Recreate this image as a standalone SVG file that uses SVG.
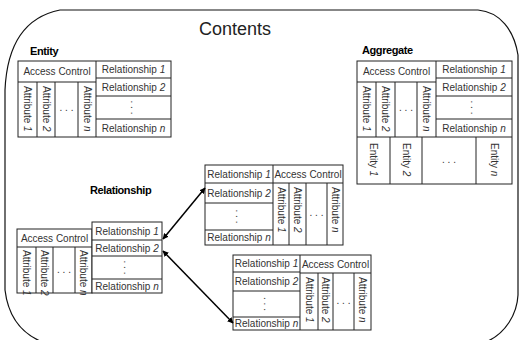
<svg xmlns="http://www.w3.org/2000/svg" width="519" height="340" viewBox="0 0 519 340">
<style>
.b{fill:#fff;stroke:#222;stroke-width:1}
.l{stroke:#222;stroke-width:1;fill:none}
.t{font-family:"Liberation Sans",Arial,sans-serif;font-size:10px;fill:#333}
.c{text-anchor:middle}
.h{font-family:"Liberation Sans",Arial,sans-serif;font-weight:bold;font-size:11px;fill:#000;letter-spacing:-0.4px}
.i{font-style:italic}
.a{stroke:#000;stroke-width:1.5;fill:none;marker-start:url(#ah);marker-end:url(#ah)}
</style>
<defs>
<marker id="ah" viewBox="0 0 10 10" refX="9" refY="5" markerWidth="6" markerHeight="6" orient="auto-start-reverse" markerUnits="userSpaceOnUse"><path d="M0,0 L10,5 L0,10 Z" fill="#000"/></marker>
</defs>
<rect width="519" height="340" fill="#fff"/>
<g id="frame">
<path d="M60,10 L478,10 C500,12 514,30 518,55 L518,295 C517,315 505,333 488,341 L40,341 C20,332 8,315 5,290 L5,90 C7,45 25,17 60,10 Z" fill="none" stroke="#111" stroke-width="1.2"/>
<text x="235" y="35" font-family="Liberation Sans, Arial, sans-serif" font-size="18" text-anchor="middle" fill="#222">Contents</text>
</g>

<g id="entity">
<text class="h" x="30" y="55">Entity</text>
<rect class="b" x="18" y="61" width="153" height="76"/>
<path class="l" d="M96,61V137M18,82H96M37,82V137M55,82V137M78,82V137M96,78H171M96,96H171M96,119H171"/>
<text class="t c" x="57" y="75">Access Control</text>
<text class="t c" x="133.5" y="73">Relationship <tspan class="i">1</tspan></text>
<text class="t c" x="133.5" y="91">Relationship <tspan class="i">2</tspan></text>
<text class="t c" transform="translate(130.5,107.5) rotate(90)">. . .</text>
<text class="t c" x="133.5" y="132">Relationship <tspan class="i">n</tspan></text>
<text class="t" transform="translate(24,86) rotate(90)">Attribute <tspan class="i">1</tspan></text>
<text class="t" transform="translate(42.5,86) rotate(90)">Attribute <tspan class="i">2</tspan></text>
<text class="t c" x="66.5" y="111">. . .</text>
<text class="t" transform="translate(83.5,86) rotate(90)">Attribute <tspan class="i">n</tspan></text>
</g>

<g id="aggregate">
<text class="h" x="362" y="54">Aggregate</text>
<rect class="b" x="357" y="61" width="155" height="123"/>
<path class="l" d="M436,61V137M357,82H436M376,82V137M395,82V137M417,82V137M436,78H512M436,96H512M436,119H512M357,137H512M390,137V184M422,137V184M476,137V184"/>
<text class="t c" x="396.5" y="75">Access Control</text>
<text class="t c" x="474" y="73">Relationship <tspan class="i">1</tspan></text>
<text class="t c" x="474" y="91">Relationship <tspan class="i">2</tspan></text>
<text class="t c" transform="translate(471,107.5) rotate(90)">. . .</text>
<text class="t c" x="474" y="132">Relationship <tspan class="i">n</tspan></text>
<text class="t" transform="translate(363,86) rotate(90)">Attribute <tspan class="i">1</tspan></text>
<text class="t" transform="translate(382,86) rotate(90)">Attribute <tspan class="i">2</tspan></text>
<text class="t c" x="406" y="111">. . .</text>
<text class="t" transform="translate(423,86) rotate(90)">Attribute <tspan class="i">n</tspan></text>
<text class="t" transform="translate(370,143) rotate(90)">Entity <tspan class="i">1</tspan></text>
<text class="t" transform="translate(402.5,143) rotate(90)">Entity <tspan class="i">2</tspan></text>
<text class="t c" x="449" y="163">. . .</text>
<text class="t" transform="translate(490.5,143) rotate(90)">Entity <tspan class="i">n</tspan></text>
</g>

<g id="relationship">
<text class="h" x="90" y="194">Relationship</text>
<rect class="b" x="17" y="229" width="75" height="64"/>
<rect class="b" x="92" y="222" width="70" height="71"/>
<path class="l" d="M17,247H92M36,247V293M53,247V293M75,247V293M92,240H162M92,256H162M92,279H162"/>
<text class="t c" x="54.5" y="242">Access Control</text>
<text class="t c" x="127" y="235">Relationship <tspan class="i">1</tspan></text>
<text class="t c" x="127" y="252">Relationship <tspan class="i">2</tspan></text>
<text class="t c" transform="translate(124,267.5) rotate(90)">. . .</text>
<text class="t c" x="127" y="290">Relationship <tspan class="i">n</tspan></text>
<text class="t" transform="translate(23,250) rotate(90)">Attribute <tspan class="i">1</tspan></text>
<text class="t" transform="translate(41,250) rotate(90)">Attribute <tspan class="i">2</tspan></text>
<text class="t c" x="64" y="273">. . .</text>
<text class="t" transform="translate(80,250) rotate(90)">Attribute <tspan class="i">n</tspan></text>
</g>

<g id="target1">
<rect class="b" x="205" y="165" width="138" height="80"/>
<path class="l" d="M273,165V245M205,183H273M205,203H273M205,230H273M273,183H343M289,183V245M306,183V245M327,183V245"/>
<text class="t c" x="308" y="178">Access Control</text>
<text class="t c" x="239" y="178">Relationship <tspan class="i">1</tspan></text>
<text class="t c" x="239" y="197">Relationship <tspan class="i">2</tspan></text>
<text class="t c" transform="translate(236,216.5) rotate(90)">. . .</text>
<text class="t c" x="239" y="241">Relationship <tspan class="i">n</tspan></text>
<text class="t" transform="translate(277.5,187) rotate(90)">Attribute <tspan class="i">1</tspan></text>
<text class="t" transform="translate(294,187) rotate(90)">Attribute <tspan class="i">2</tspan></text>
<text class="t c" x="316.5" y="216">. . .</text>
<text class="t" transform="translate(331.5,187) rotate(90)">Attribute <tspan class="i">n</tspan></text>
</g>

<g id="target2">
<rect class="b" x="233" y="255" width="138" height="75"/>
<path class="l" d="M300,255V330M233,272H300M233,291H300M233,317H300M300,273H371M318,273V330M333,273V330M354,273V330"/>
<text class="t c" x="335.5" y="268">Access Control</text>
<text class="t c" x="266.5" y="267">Relationship <tspan class="i">1</tspan></text>
<text class="t c" x="266.5" y="285">Relationship <tspan class="i">2</tspan></text>
<text class="t c" transform="translate(263.5,304) rotate(90)">. . .</text>
<text class="t c" x="266.5" y="327">Relationship <tspan class="i">n</tspan></text>
<text class="t" transform="translate(305.5,277) rotate(90)">Attribute <tspan class="i">1</tspan></text>
<text class="t" transform="translate(322,277) rotate(90)">Attribute <tspan class="i">2</tspan></text>
<text class="t c" x="343.5" y="304">. . .</text>
<text class="t" transform="translate(359,277) rotate(90)">Attribute <tspan class="i">n</tspan></text>
</g>

<g id="connectors">
<path class="a" d="M163,239L205,188"/>
<path class="a" d="M163,251L233,323"/>
</g>
</svg>
